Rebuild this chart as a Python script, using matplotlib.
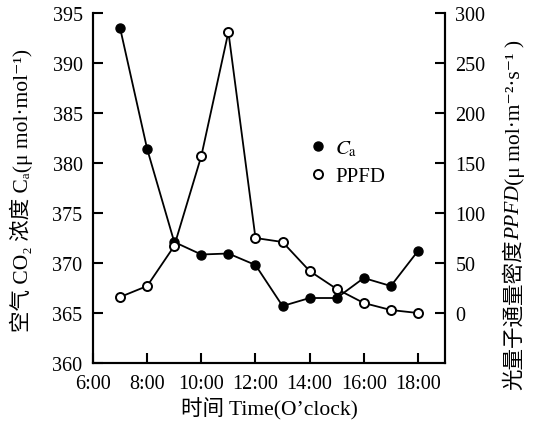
import matplotlib
matplotlib.use('Agg')
import matplotlib.pyplot as plt
from matplotlib.lines import Line2D

plt.rcParams['font.family'] = ['Liberation Serif', 'Noto Sans CJK SC', 'DejaVu Sans']
plt.rcParams['mathtext.fontset'] = 'stix'

# hours of the day
hours = [7, 8, 9, 10, 11, 12, 13, 14, 15, 16, 17, 18]
# air CO2 concentration Ca (umol/mol)
ca = [393.5, 381.4, 372.1, 370.85, 370.95, 369.8, 365.7, 366.5, 366.5, 368.5, 367.7, 371.2]
# photon flux density PPFD
ppfd = [16, 27, 67, 157, 281, 75, 71, 42, 24, 10, 3, 0]

xticks = [6, 8, 10, 12, 14, 16, 18]
xticklabels = ['6:00', '8:00', '10:00', '12:00', '14:00', '16:00', '18:00']

TICK_FS = 14.5
LAB_FS = 15.5

fig = plt.figure(figsize=(5.37, 4.35), dpi=100)
ax = fig.add_axes([0.1732, 0.1632, 0.6555, 0.8046])
ax2 = ax.twinx()

ax.plot(hours, ca, color='black', lw=1.3, marker='o', ms=6.5,
        mfc='black', mec='black', zorder=3)
ax2.plot(hours, ppfd, color='black', lw=1.3, marker='o', ms=6.5,
         mfc='white', mec='black', mew=1.4, zorder=3)

ax.set_xlim(6, 19)
ax.set_ylim(360, 395)
ax2.set_ylim(-50, 300)
ax.set_xticks(xticks)
ax.set_xticklabels(xticklabels)
ax.set_yticks(range(360, 396, 5))
ax2.set_yticks(range(0, 301, 50))

for a in (ax, ax2):
    a.spines['top'].set_visible(False)
    for s in a.spines.values():
        s.set_linewidth(1.5)
    a.tick_params(direction='in', length=7, width=1.5, labelsize=TICK_FS, pad=7.5)
ax.tick_params(axis='x', pad=8)

ax.set_xlabel('时间 Time(O\u2019clock)', fontsize=LAB_FS, labelpad=3)

# left label
fig.text(21 / 537, 0.563, '空气 CO\u2082 浓度 C\u2090(\u03bc mol\u00b7mol\u207b\u00b9)',
         rotation=90, fontsize=LAB_FS, ha='center', va='center')

# right label: CJK part + italic PPFD + units, stacked bottom to top
t1 = fig.text(0.959, 0.103, '光量子通量密度', rotation=90, fontsize=LAB_FS,
              ha='center', va='bottom')
a2 = fig.add_artist(plt.Annotation('PPFD', xy=(0.5, 1), xycoords=t1, rotation=90,
                                   fontsize=LAB_FS, style='italic', ha='center', va='bottom'))
a3 = fig.add_artist(plt.Annotation('(\u03bc mol\u00b7m\u207b\u00b2\u00b7s\u207b\u00b9 )', xy=(0.5, 1),
                                   xycoords=a2, rotation=90, fontsize=LAB_FS,
                                   ha='center', va='bottom'))

handles = [
    Line2D([], [], ls='none', marker='o', ms=6.5, mfc='black', mec='black'),
    Line2D([], [], ls='none', marker='o', ms=6.5, mfc='white', mec='black', mew=1.4),
]
ax.legend(handles, ['$C_\\mathrm{a}$', 'PPFD'], loc='upper left',
          bbox_to_anchor=(0.557, 0.694), frameon=False, fontsize=15,
          handlelength=1.0, handletextpad=0.3, labelspacing=0.4)

fig.savefig('out.png', dpi=100)
